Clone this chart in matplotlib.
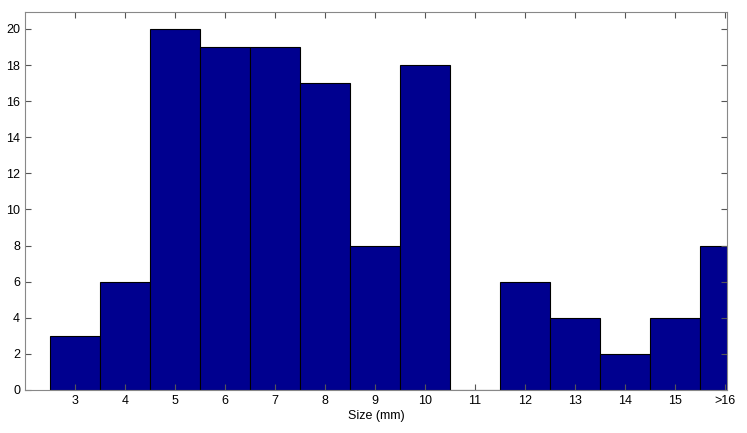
import matplotlib
matplotlib.use("Agg")
import matplotlib.pyplot as plt

categories = ["3", "4", "5", "6", "7", "8", "9", "10", "11", "12", "13", "14", "15", ">16"]
counts = [3, 6, 20, 19, 19, 17, 8, 18, 0, 6, 4, 2, 4, 8]
yticks = [0, 2, 4, 6, 8, 10, 12, 14, 16, 18, 20]

plt.rcParams['font.family'] = ['Liberation Sans', 'DejaVu Sans']
fig = plt.figure(figsize=(7.47, 4.33), dpi=100)
ax = fig.add_axes([25/747, 43/433, 702/747, 378/433])

xs = list(range(3, 3 + len(categories)))
ax.bar(xs, counts, width=1.0, color='#00008F', edgecolor='black', linewidth=0.8)
ax.set_xlim(2, 16.04)
ax.set_ylim(0, 20.94)
ax.set_xticks(xs)
ax.set_xticklabels(categories)
ax.set_yticks(yticks)
ax.tick_params(direction='in', top=True, right=True, labelsize=9, length=4, color='#555555', width=0.8)
for s in ax.spines.values():
    s.set_color('#888888')
    s.set_linewidth(0.8)
ax.set_xlabel('Size (mm)', fontsize=9, labelpad=2)
fig.savefig('out.png', dpi=100)
